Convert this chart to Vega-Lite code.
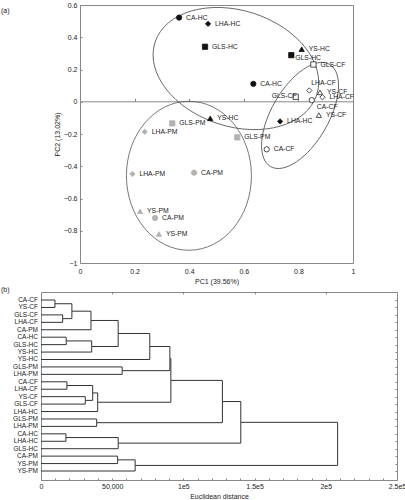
{
  "$schema": "https://vega.github.io/schema/vega-lite/v6.json",
  "padding": {"left": 0, "top": 0, "right": 0, "bottom": 0},
  "background": "white",
  "config": {
    "font": "Liberation Sans",
    "view": {"stroke": "#888", "strokeWidth": 1},
    "axis": {"labelColor": "#222", "titleColor": "#222", "titleFontWeight": "normal", "labelFontSize": 7, "titleFontSize": 7, "grid": false, "domain": false, "tickColor": "#888"},
    "title": {"fontSize": 7, "fontWeight": "normal", "color": "#222"}
  },
  "datasets": {
    "pca": [
      {"label": "CA-HC", "cv": "CA", "tr": "HC", "pc1": 0.363, "pc2": 0.522, "lp": "r"},
      {"label": "LHA-HC", "cv": "LHA", "tr": "HC", "pc1": 0.469, "pc2": 0.483, "lp": "r"},
      {"label": "GLS-HC", "cv": "GLS", "tr": "HC", "pc1": 0.458, "pc2": 0.341, "lp": "r"},
      {"label": "YS-HC", "cv": "YS", "tr": "HC", "pc1": 0.812, "pc2": 0.326, "lp": "r"},
      {"label": "GLS-HC", "cv": "GLS", "tr": "HC", "pc1": 0.774, "pc2": 0.289, "lp": "br"},
      {"label": "GLS-CF", "cv": "GLS", "tr": "CF", "pc1": 0.855, "pc2": 0.231, "lp": "r"},
      {"label": "CA-HC", "cv": "CA", "tr": "HC", "pc1": 0.635, "pc2": 0.111, "lp": "r"},
      {"label": "LHA-CF", "cv": "LHA", "tr": "CF", "pc1": 0.840, "pc2": 0.070, "lp": "a"},
      {"label": "YS-CF", "cv": "YS", "tr": "CF", "pc1": 0.879, "pc2": 0.058, "lp": "r"},
      {"label": "LHA-CF", "cv": "LHA", "tr": "CF", "pc1": 0.888, "pc2": 0.028, "lp": "r"},
      {"label": "GLS-CF", "cv": "GLS", "tr": "CF", "pc1": 0.790, "pc2": 0.031, "lp": "l"},
      {"label": "CA-CF", "cv": "CA", "tr": "CF", "pc1": 0.849, "pc2": 0.010, "lp": "b"},
      {"label": "YS-CF", "cv": "YS", "tr": "CF", "pc1": 0.875, "pc2": -0.083, "lp": "r"},
      {"label": "LHA-HC", "cv": "LHA", "tr": "HC", "pc1": 0.733, "pc2": -0.122, "lp": "r"},
      {"label": "YS-HC", "cv": "YS", "tr": "HC", "pc1": 0.477, "pc2": -0.103, "lp": "r"},
      {"label": "GLS-PM", "cv": "GLS", "tr": "PM", "pc1": 0.338, "pc2": -0.134, "lp": "r"},
      {"label": "LHA-PM", "cv": "LHA", "tr": "PM", "pc1": 0.237, "pc2": -0.186, "lp": "r"},
      {"label": "GLS-PM", "cv": "GLS", "tr": "PM", "pc1": 0.576, "pc2": -0.221, "lp": "r"},
      {"label": "CA-CF", "cv": "CA", "tr": "CF", "pc1": 0.684, "pc2": -0.295, "lp": "r"},
      {"label": "LHA-PM", "cv": "LHA", "tr": "PM", "pc1": 0.192, "pc2": -0.448, "lp": "r"},
      {"label": "CA-PM", "cv": "CA", "tr": "PM", "pc1": 0.418, "pc2": -0.440, "lp": "r"},
      {"label": "YS-PM", "cv": "YS", "tr": "PM", "pc1": 0.220, "pc2": -0.679, "lp": "r"},
      {"label": "CA-PM", "cv": "CA", "tr": "PM", "pc1": 0.275, "pc2": -0.721, "lp": "r"},
      {"label": "YS-PM", "cv": "YS", "tr": "PM", "pc1": 0.289, "pc2": -0.820, "lp": "r"}
    ],
    "ellipses": [
      {"group": "HC", "pc1": 0.571, "pc2": 0.206},
      {"group": "CF", "pc1": 0.806, "pc2": -0.085},
      {"group": "PM", "pc1": 0.399, "pc2": -0.459}
    ],
    "tree": [
      {"name": "CA-CF", "c": 0, "p": 9800, "cy": 0, "py": 0.5},
      {"name": "YS-CF", "c": 0, "p": 9800, "cy": 1, "py": 0.5},
      {"name": "GLS-CF", "c": 0, "p": 15200, "cy": 2, "py": 2.5},
      {"name": "LHA-CF", "c": 0, "p": 15200, "cy": 3, "py": 2.5},
      {"name": "CA-PM", "c": 0, "p": 35100, "cy": 4, "py": 2.75},
      {"name": "CA-HC", "c": 0, "p": 17700, "cy": 5, "py": 5.5},
      {"name": "GLS-HC", "c": 0, "p": 17700, "cy": 6, "py": 5.5},
      {"name": "YS-HC", "c": 0, "p": 35600, "cy": 7, "py": 6.25},
      {"name": "YS-HC", "c": 0, "p": 76400, "cy": 8, "py": 6.25},
      {"name": "GLS-PM", "c": 0, "p": 57000, "cy": 9, "py": 9.5},
      {"name": "LHA-PM", "c": 0, "p": 57000, "cy": 10, "py": 9.5},
      {"name": "CA-CF", "c": 0, "p": 18200, "cy": 11, "py": 11.5},
      {"name": "LHA-CF", "c": 0, "p": 18200, "cy": 12, "py": 11.5},
      {"name": "YS-CF", "c": 0, "p": 31100, "cy": 13, "py": 13.5},
      {"name": "GLS-CF", "c": 0, "p": 31100, "cy": 14, "py": 13.5},
      {"name": "LHA-HC", "c": 0, "p": 39800, "cy": 15, "py": 13.75},
      {"name": "GLS-PM", "c": 0, "p": 39100, "cy": 16, "py": 16.5},
      {"name": "LHA-PM", "c": 0, "p": 39100, "cy": 17, "py": 16.5},
      {"name": "CA-HC", "c": 0, "p": 17500, "cy": 18, "py": 18.5},
      {"name": "LHA-HC", "c": 0, "p": 17500, "cy": 19, "py": 18.5},
      {"name": "GLS-HC", "c": 0, "p": 54200, "cy": 20, "py": 19.25},
      {"name": "CA-PM", "c": 0, "p": 53800, "cy": 21, "py": 21.5},
      {"name": "YS-PM", "c": 0, "p": 53800, "cy": 22, "py": 21.5},
      {"name": "YS-PM", "c": 0, "p": 66100, "cy": 23, "py": 22.25},
      {"c": 9800, "p": 21700, "cy": 0.5, "py": 1.5},
      {"c": 15200, "p": 21700, "cy": 2.5, "py": 1.5},
      {"c": 21700, "p": 35100, "cy": 1.5, "py": 2.75},
      {"c": 35100, "p": 54200, "cy": 2.75, "py": 4.5},
      {"c": 17700, "p": 35600, "cy": 5.5, "py": 6.25},
      {"c": 35600, "p": 54200, "cy": 6.25, "py": 4.5},
      {"c": 54200, "p": 76400, "cy": 4.5, "py": 6.25},
      {"c": 76400, "p": 90500, "cy": 6.25, "py": 7.875},
      {"c": 57000, "p": 90500, "cy": 9.5, "py": 7.875},
      {"c": 90500, "p": 91200, "cy": 7.875, "py": 10.8125},
      {"c": 18200, "p": 36300, "cy": 11.5, "py": 12.5},
      {"c": 31100, "p": 36300, "cy": 13.5, "py": 12.5},
      {"c": 36300, "p": 39800, "cy": 12.5, "py": 13.75},
      {"c": 39800, "p": 91200, "cy": 13.75, "py": 10.8125},
      {"c": 91200, "p": 127400, "cy": 10.8125, "py": 13.65625},
      {"c": 39100, "p": 127400, "cy": 16.5, "py": 13.65625},
      {"c": 17500, "p": 54200, "cy": 18.5, "py": 19.25},
      {"c": 127400, "p": 140300, "cy": 13.65625, "py": 16.453125},
      {"c": 54200, "p": 140300, "cy": 19.25, "py": 16.453125},
      {"c": 140300, "p": 208300, "cy": 16.453125, "py": 19.3515625},
      {"c": 53800, "p": 66100, "cy": 21.5, "py": 22.25},
      {"c": 66100, "p": 208300, "cy": 22.25, "py": 19.3515625}
    ]
  },
  "vconcat": [
    {
      "hconcat": [
        {
          "width": 5,
          "height": 258,
          "view": {"stroke": null},
          "title": {"text": "(a)", "anchor": "start", "frame": "group", "dx": -40, "offset": -9},
          "data": {"values": []},
          "mark": "point"
        },
        {
          "width": 273,
          "height": 258,
          "layer": [
            {
              "data": {"name": "ellipses"},
              "encoding": {
                "x": {"field": "pc1", "type": "quantitative", "scale": {"domain": [0, 1], "nice": false, "zero": false},
                  "axis": {"orient": "bottom", "offset": -161.7, "values": [0.2, 0.4, 0.6, 0.8], "labels": false, "title": null, "domain": true, "domainColor": "#888", "domainWidth": 1, "ticks": true, "tickSize": -3, "tickColor": "#888", "grid": false}},
                "y": {"field": "pc2", "type": "quantitative", "scale": {"domain": [-1, 0.6], "nice": false, "zero": false},
                  "axis": {"orient": "left", "values": [-1, -0.8, -0.6, -0.4, -0.2, 0, 0.2, 0.4, 0.6], "format": "~g", "ticks": true, "tickSize": -2, "tickColor": "#888", "domain": false, "labelPadding": 5, "labelFlush": false, "labelOverlap": false, "title": "PC2 (13.02%)", "titlePadding": 3}}
              },
              "layer": [
                {
                  "transform": [{"filter": "datum.group == 'HC'"}],
                  "mark": {"type": "point", "filled": false, "opacity": 1, "stroke": "#555", "strokeWidth": 0.8, "size": 28900, "angle": 18,
                    "shape": "M-1,0C-1,-0.3767,-0.5523,-0.682,0,-0.682C0.5523,-0.682,1,-0.3767,1,0C1,0.3767,0.5523,0.682,0,0.682C-0.5523,0.682,-1,0.3767,-1,0Z"}
                },
                {
                  "transform": [{"filter": "datum.group == 'CF'"}],
                  "mark": {"type": "point", "filled": false, "opacity": 1, "stroke": "#555", "strokeWidth": 0.8, "size": 13924, "angle": -60,
                    "shape": "M-1,0C-1,-0.2668,-0.5523,-0.483,0,-0.483C0.5523,-0.483,1,-0.2668,1,0C1,0.2668,0.5523,0.483,0,0.483C-0.5523,0.483,-1,0.2668,-1,0Z"}
                },
                {
                  "transform": [{"filter": "datum.group == 'PM'"}],
                  "mark": {"type": "point", "filled": false, "opacity": 1, "stroke": "#555", "strokeWidth": 0.8, "size": 22201, "angle": 90,
                    "shape": "M-1,0C-1,-0.4634,-0.5523,-0.839,0,-0.839C0.5523,-0.839,1,-0.4634,1,0C1,0.4634,0.5523,0.839,0,0.839C-0.5523,0.839,-1,0.4634,-1,0Z"}
                }
              ]
            },
            {
              "data": {"name": "pca"},
              "encoding": {
                "x": {"field": "pc1", "type": "quantitative", "scale": {"domain": [0, 1], "nice": false, "zero": false},
                  "axis": {"orient": "bottom", "values": [0, 0.2, 0.4, 0.6, 0.8, 1], "format": "~g", "ticks": false, "domain": false, "labelPadding": 4, "labelFlush": false, "labelOverlap": false, "title": "PC1 (39.56%)", "titlePadding": 3}},
                "y": {"field": "pc2", "type": "quantitative", "scale": {"domain": [-1, 0.6], "nice": false, "zero": false},
                  "axis": {"orient": "left", "values": [-1, -0.8, -0.6, -0.4, -0.2, 0, 0.2, 0.4, 0.6], "format": "~g", "ticks": true, "tickSize": -2, "tickColor": "#888", "domain": false, "labelPadding": 5, "labelFlush": false, "labelOverlap": false, "title": "PC2 (13.02%)", "titlePadding": 3}}
              },
              "layer": [
                {
                  "mark": {"type": "point", "filled": true, "opacity": 1, "size": 28, "strokeWidth": 0.8},
                  "encoding": {
                    "shape": {"field": "cv", "type": "nominal", "scale": {"domain": ["CA", "LHA", "GLS", "YS"], "range": ["circle", "diamond", "square", "triangle-up"]}, "legend": null},
                    "fill": {"field": "tr", "type": "nominal", "scale": {"domain": ["HC", "CF", "PM"], "range": ["#111111", "#ffffff", "#b3b3b3"]}, "legend": null},
                    "stroke": {"field": "tr", "type": "nominal", "scale": {"domain": ["HC", "CF", "PM"], "range": ["#111111", "#222222", "#b3b3b3"]}, "legend": null}
                  }
                },
                {
                  "transform": [{"filter": "datum.lp == 'r'"}],
                  "mark": {"type": "text", "align": "left", "baseline": "middle", "dx": 7, "fontSize": 6.8, "color": "#222"},
                  "encoding": {"text": {"field": "label"}}
                },
                {
                  "transform": [{"filter": "datum.lp == 'l'"}],
                  "mark": {"type": "text", "align": "right", "baseline": "middle", "dx": 1, "dy": -1, "fontSize": 6.8, "color": "#222"},
                  "encoding": {"text": {"field": "label"}}
                },
                {
                  "transform": [{"filter": "datum.lp == 'a'"}],
                  "mark": {"type": "text", "align": "left", "baseline": "middle", "dx": 2, "dy": -7, "fontSize": 6.8, "color": "#222"},
                  "encoding": {"text": {"field": "label"}}
                },
                {
                  "transform": [{"filter": "datum.lp == 'b'"}],
                  "mark": {"type": "text", "align": "left", "baseline": "middle", "dx": 5, "dy": 7, "fontSize": 6.8, "color": "#222"},
                  "encoding": {"text": {"field": "label"}}
                },
                {
                  "transform": [{"filter": "datum.lp == 'br'"}],
                  "mark": {"type": "text", "align": "left", "baseline": "middle", "dx": 4, "dy": 3, "fontSize": 6.8, "color": "#222"},
                  "encoding": {"text": {"field": "label"}}
                }
              ]
            }
          ],
          "resolve": {"axis": {"x": "independent"}}
        }
      ],
      "spacing": 6
    },
    {
      "width": 356,
      "height": 188,
      "title": {"text": "(b)", "anchor": "start", "frame": "group", "dx": -40, "offset": -1},
      "data": {"name": "tree"},
      "layer": [
        {
          "encoding": {
            "x": {"field": "c", "type": "quantitative", "scale": {"domain": [0, 250000], "nice": false, "zero": false},
              "axis": {"orient": "bottom", "values": [0, 10000, 20000, 30000, 40000, 50000, 60000, 70000, 80000, 90000, 100000, 110000, 120000, 130000, 140000, 150000, 160000, 170000, 180000, 190000, 200000, 210000, 220000, 230000, 240000, 250000],
                "labelExpr": "datum.value == 0 ? '0' : datum.value == 50000 ? '50,000' : datum.value == 100000 ? '1e5' : datum.value == 150000 ? '1.5e5' : datum.value == 200000 ? '2e5' : datum.value == 250000 ? '2.5e5' : ''",
                "ticks": true, "tickSize": -2, "tickColor": "#888", "domain": false, "labelPadding": 4, "labelFlush": false, "labelOverlap": false, "title": "Euclidean distance", "titlePadding": 3}},
            "y": {"field": "cy", "type": "quantitative", "scale": {"domain": [-1.08, 24.21], "reverse": true, "nice": false, "zero": false}, "axis": null}
          },
          "layer": [
            {"mark": {"type": "rule", "color": "#333", "strokeWidth": 1}, "encoding": {"x2": {"field": "p"}}},
            {
              "transform": [{"filter": "datum.name != null"}],
              "mark": {"type": "text", "align": "right", "baseline": "middle", "dx": -3, "fontSize": 6.5, "color": "#222"},
              "encoding": {"text": {"field": "name"}}
            }
          ]
        },
        {
          "mark": {"type": "rule", "color": "#333", "strokeWidth": 1},
          "encoding": {
            "x": {"field": "p", "type": "quantitative", "axis": {"orient": "top", "values": [50000, 100000, 150000, 200000], "labels": false, "ticks": true, "tickSize": -2, "tickColor": "#888", "domain": false, "title": null}},
            "y": {"field": "cy", "type": "quantitative", "axis": {"orient": "right", "values": [0, 1, 2, 3, 4, 5, 6, 7, 8, 9, 10, 11, 12, 13, 14, 15, 16, 17, 18, 19, 20, 21, 22, 23], "labels": false, "ticks": true, "tickSize": -2, "tickColor": "#888", "domain": false, "title": null}},
            "y2": {"field": "py"}
          }
        }
      ],
      "resolve": {"axis": {"x": "independent", "y": "independent"}}
    }
  ],
  "spacing": 0
}
